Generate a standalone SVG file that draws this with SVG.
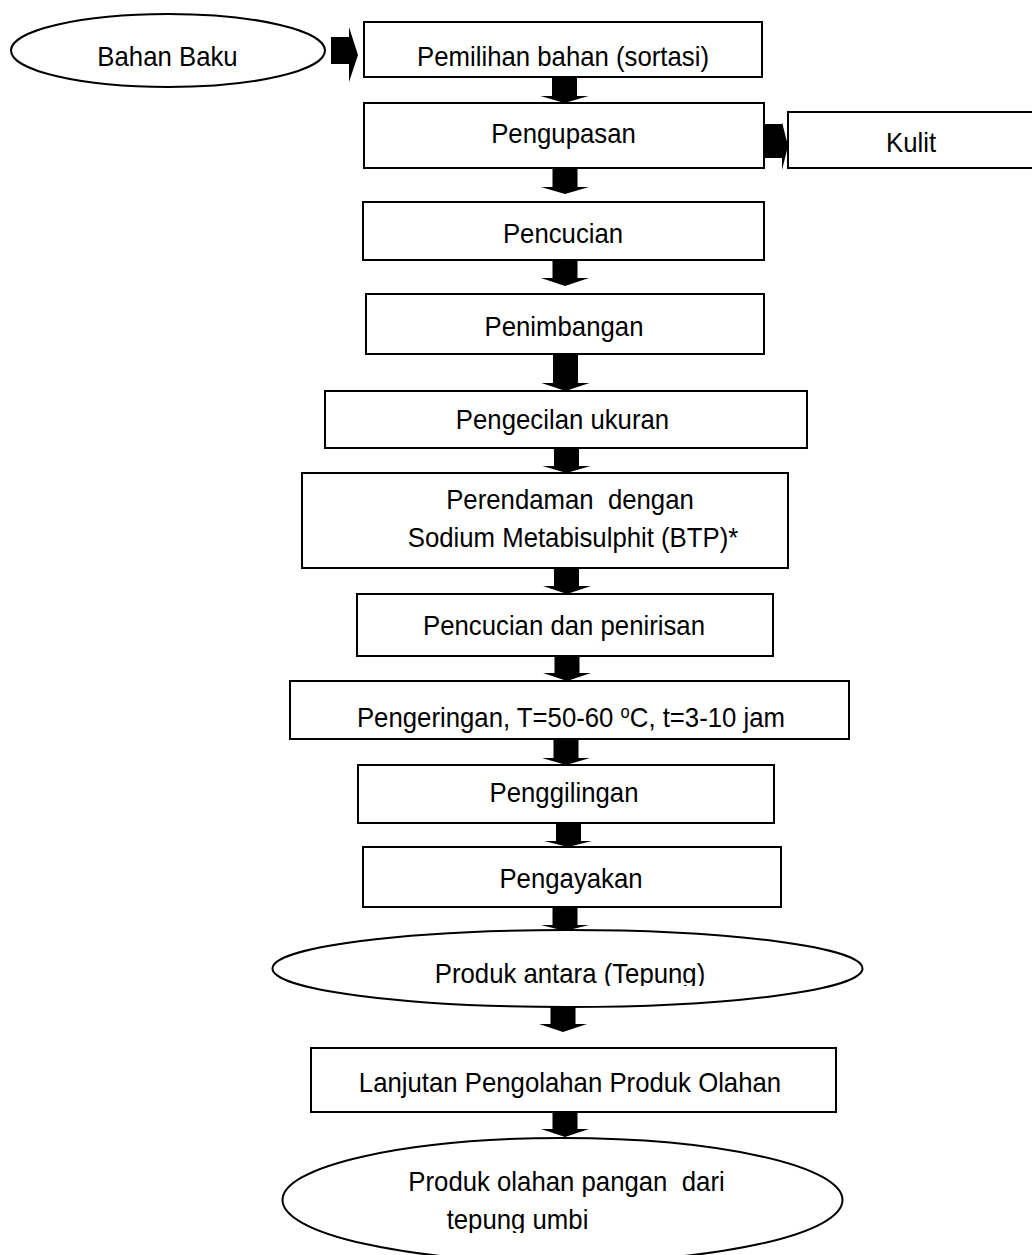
<svg xmlns="http://www.w3.org/2000/svg" width="1032" height="1255" viewBox="0 0 1032 1255">
<style>
.box{fill:#fff;stroke:#000;stroke-width:2}
.ell{fill:#fff;stroke:#000;stroke-width:2}
.arr{fill:#000;stroke:none}
.lbl{font-family:"Liberation Sans",Arial,sans-serif;font-size:28px;fill:#000;text-anchor:middle}
</style>
<defs>
<clipPath id="clipA" clipPathUnits="userSpaceOnUse"><rect x="0" y="900" width="1032" height="86"/></clipPath>
<clipPath id="clipB" clipPathUnits="userSpaceOnUse"><rect x="0" y="1140" width="1032" height="93"/></clipPath>
</defs>
<rect width="1032" height="1255" fill="#fff"/>

<g id="connectors">
<polygon class="arr" points="331,37 349,37 349,27 358,55 349,82 349,64 331,64"/>
<polygon class="arr" points="764,124 782,124 782,122 788,146 782,170 782,158 764,158"/>
<polygon class="arr" points="552,77 577,77 577,96 588.5,96 564.5,103 540.5,96 552,96"/>
<polygon class="arr" points="552.5,168 577.5,168 577.5,187 589,187 565,194 541,187 552.5,187"/>
<polygon class="arr" points="552.5,260 577.5,260 577.5,278 589,278 565,286 541,278 552.5,278"/>
<polygon class="arr" points="553,354 578,354 578,383 589.5,383 565.5,391 541.5,383 553,383"/>
<polygon class="arr" points="554,448 579,448 579,466 590.5,466 566.5,473 542.5,466 554,466"/>
<polygon class="arr" points="554,568 579,568 579,586 591,586 567,594 543,586 554,586"/>
<polygon class="arr" points="554.5,656 579.5,656 579.5,673 591,673 567,681 543,673 554.5,673"/>
<polygon class="arr" points="553.5,739 578.5,739 578.5,758 590,758 566,765 542,758 553.5,758"/>
<polygon class="arr" points="556,823 581,823 581,841 592,841 568,847 544,841 556,841"/>
<polygon class="arr" points="552.5,907 577.5,907 577.5,925 589,925 565,931 541,925 552.5,925"/>
<polygon class="arr" points="550.5,1007 575.5,1007 575.5,1024 587,1024 563,1032 539,1024 550.5,1024"/>
<polygon class="arr" points="552.5,1112 577.5,1112 577.5,1129 589,1129 565,1137 541,1129 552.5,1129"/>
</g>

<g id="bahan-baku">
<ellipse class="ell" cx="168" cy="50.5" rx="157" ry="36.5"/>
<text class="lbl" transform="translate(167.5,66) scale(0.92,1)">Bahan Baku</text>
</g>
<g id="pemilihan">
<rect class="box" x="364" y="22" width="398" height="55"/>
<text class="lbl" transform="translate(563,66) scale(0.92,1)">Pemilihan bahan (sortasi)</text>
</g>
<g id="pengupasan">
<rect class="box" x="364" y="103" width="400" height="65"/>
<text class="lbl" transform="translate(563.5,143) scale(0.92,1)">Pengupasan</text>
</g>
<g id="kulit">
<rect class="box" x="788" y="112" width="260" height="56"/>
<text class="lbl" transform="translate(911,152) scale(0.92,1)">Kulit</text>
</g>
<g id="pencucian">
<rect class="box" x="363" y="202" width="401" height="58"/>
<text class="lbl" transform="translate(563,243) scale(0.92,1)">Pencucian</text>
</g>
<g id="penimbangan">
<rect class="box" x="366" y="294" width="398" height="60"/>
<text class="lbl" transform="translate(564,336) scale(0.92,1)">Penimbangan</text>
</g>
<g id="pengecilan">
<rect class="box" x="325" y="391" width="482" height="57"/>
<text class="lbl" transform="translate(562.5,429) scale(0.92,1)">Pengecilan ukuran</text>
</g>
<g id="perendaman">
<rect class="box" x="302" y="473" width="486" height="95"/>
<text class="lbl" transform="translate(570,509) scale(0.92,1)" xml:space="preserve">Perendaman  dengan</text>
<text class="lbl" transform="translate(573,547) scale(0.92,1)">Sodium Metabisulphit (BTP)*</text>
</g>
<g id="pencucian-penirisan">
<rect class="box" x="357" y="594" width="416" height="62"/>
<text class="lbl" transform="translate(564,635) scale(0.92,1)">Pencucian dan penirisan</text>
</g>
<g id="pengeringan">
<rect class="box" x="290" y="681" width="559" height="58"/>
<text class="lbl" transform="translate(571,727) scale(0.92,1)">Pengeringan, T=50-60 <tspan font-size="18" dy="-9">o</tspan><tspan dy="9">C, t=3-10 jam</tspan></text>
</g>
<g id="penggilingan">
<rect class="box" x="358" y="765" width="416" height="58"/>
<text class="lbl" transform="translate(564,802) scale(0.92,1)">Penggilingan</text>
</g>
<g id="pengayakan">
<rect class="box" x="363" y="847" width="418" height="60"/>
<text class="lbl" transform="translate(571,888) scale(0.92,1)">Pengayakan</text>
</g>
<g id="produk-antara">
<ellipse class="ell" cx="567.5" cy="968.5" rx="295" ry="38.5"/>
<g clip-path="url(#clipA)">
<text class="lbl" transform="translate(570,983) scale(0.92,1)">Produk antara (Tepung)</text>
</g>
</g>
<g id="lanjutan">
<rect class="box" x="311" y="1048" width="525" height="64"/>
<text class="lbl" transform="translate(570,1092) scale(0.92,1)">Lanjutan Pengolahan Produk Olahan</text>
</g>
<g id="produk-olahan">
<ellipse class="ell" cx="562.5" cy="1200" rx="280" ry="62"/>
<text class="lbl" transform="translate(566.5,1191) scale(0.92,1)" xml:space="preserve">Produk olahan pangan  dari</text>
<g clip-path="url(#clipB)">
<text class="lbl" transform="translate(517.5,1229) scale(0.92,1)">tepung umbi</text>
</g>
</g>
</svg>
